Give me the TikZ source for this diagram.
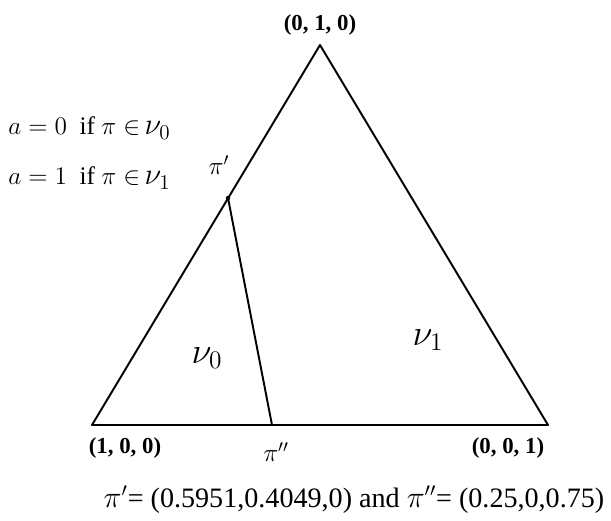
\documentclass[tikz,border=0pt]{standalone}
\usepackage{fontspec}
\setmainfont{Liberation Serif}
\begin{document}
\begin{tikzpicture}[x=0.02cm,y=-0.02cm,line join=round]
    \tikzset{
        edge/.style={line width=1.1pt},
        vlabel/.style={font=\bfseries\fontsize{13}{15}\selectfont, inner sep=1pt},
        region/.style={font=\huge, inner sep=1pt},
        rule/.style={anchor=west, inner sep=0pt, font=\Large},
        plabel/.style={inner sep=1pt, font=\Large}
    }
    \useasboundingbox (0,0) rectangle (611,520);

    \coordinate (top) at (320,45);
    \coordinate (bl) at (92,425);
    \coordinate (br) at (548,425);
    \coordinate (pa) at (228,198);
    \coordinate (pb) at (272,425);

    \draw[edge] (bl) -- (top) -- (br) -- cycle;
    \draw[edge] (pa) -- (pb);
    \fill (pa) circle[radius=2.2];

    \node[vlabel] (ltop) at (320,25) {(0, 1, 0)};
    \node[vlabel] (lbl) at (125,448) {(1, 0, 0)};
    \node[vlabel] (lbr) at (508,448) {(0, 0, 1)};
    \node[plabel] (lpa) at (219,165) {$\pi'$};
    \node[plabel] (lpb) at (276,452) {$\pi''$};

    \node[region] (nu0) at (207,358) {$\nu_0$};
    \node[region] (nu1) at (428,340) {$\nu_1$};

    \node[rule] (rule0) at (8,128) {$a=0$ \ if $\pi\in$\,\mbox{\LARGE$\nu_0$}};
    \node[rule] (rule1) at (8,178) {$a=1$ \ if $\pi\in$\,\mbox{\LARGE$\nu_1$}};

    \node[font=\fontsize{16}{18}\selectfont, inner sep=0pt] (eq) at (354,500)
        {$\pi'$= (0.5951,0.4049,0) and $\pi''$= (0.25,0,0.75)};
\end{tikzpicture}
\end{document}
